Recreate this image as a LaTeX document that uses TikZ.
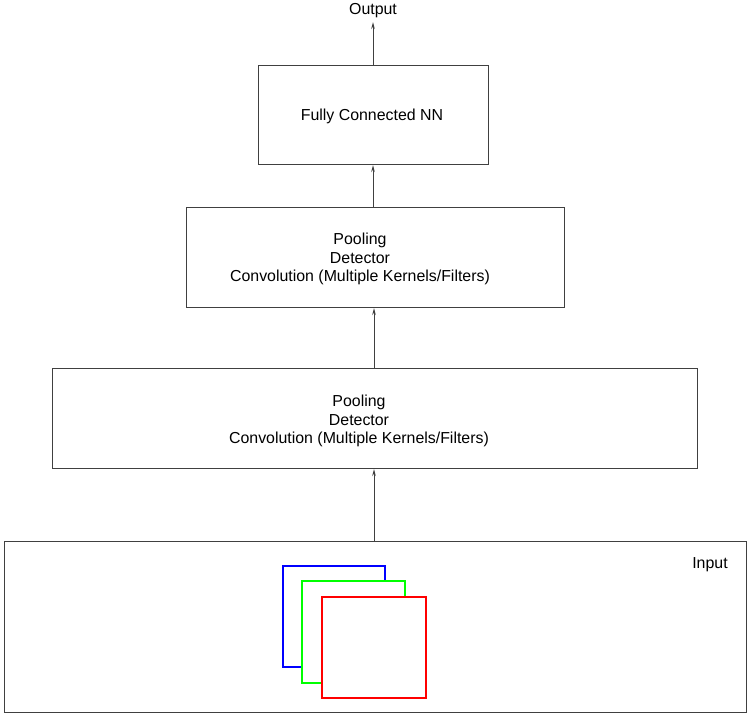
\documentclass[tikz,border=0pt]{standalone}
\usepackage{fontspec}
\setmainfont{Liberation Sans}
\usetikzlibrary{arrows.meta}
\begin{document}
\begin{tikzpicture}[x=1pt,y=-1pt,
  box/.style={draw=black!75,line width=1pt,inner sep=0pt,anchor=north west},
  lbl/.style={font=\fontsize{15.9}{18.5}\selectfont,align=center,inner sep=0pt},
  conn/.style={draw=black!75,line width=1pt,-{Stealth[length=7pt,width=3.5pt]}},
  sq/.style={line width=2.8pt}]
\useasboundingbox (0,0) rectangle (750,715);
\fill[white] (0,0) rectangle (750,715);
% boxes
\node[box,minimum width=230pt,minimum height=99pt] (fc) at (258,65) {};
\node[box,minimum width=378pt,minimum height=100pt] (c2) at (186,207) {};
\node[box,minimum width=645pt,minimum height=100pt] (c1) at (52,368) {};
\node[box,minimum width=742pt,minimum height=171pt] (in) at (4,541) {};
% texts
\node[lbl] (tfc) at (372,116) {Fully Connected NN};
\node[lbl] (tc2) at (360,259) {Pooling\\Detector\\Convolution (Multiple Kernels/Filters)};
\node[lbl] (tc1) at (359,421) {Pooling\\Detector\\Convolution (Multiple Kernels/Filters)};
\node[lbl] (tin) at (710,565) {Input};
\node[lbl] (tout) at (373,11) {Output};
% channels
\draw[sq,blue] (283,566) rectangle (385,667);
\fill[white] (302,580) rectangle (405,683);
\draw[sq,green] (302,581) rectangle (405,683);
\fill[white] (322,596) rectangle (426,698);
\draw[sq,red] (322,597) rectangle (426,698);
% connectors
\coordinate (otip) at (373,22);
\draw[conn] (fc.north -| otip) -- (otip);
\draw[conn] (c2.north -| otip) -- (fc.south -| otip);
\draw[conn] ([xshift=1pt]c1.north -| otip) -- ([xshift=1pt]c2.south -| otip);
\draw[conn] ([xshift=1pt]in.north -| otip) -- ([xshift=1pt]c1.south -| otip);
\end{tikzpicture}
\end{document}
